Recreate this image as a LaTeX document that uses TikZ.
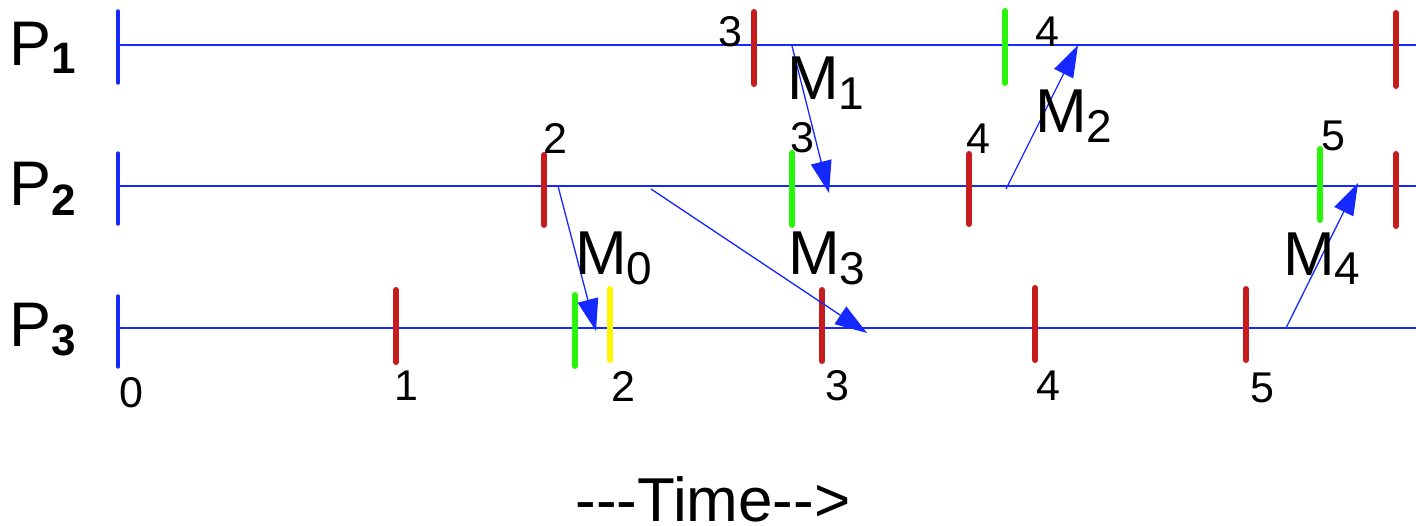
\documentclass[tikz,border=0pt]{standalone}
\usepackage{fontspec}
\setmainfont{Liberation Sans}
\usetikzlibrary{arrows.meta}
\definecolor{lblue}{RGB}{20,40,255}
\definecolor{tred}{RGB}{200,28,28}
\definecolor{tgreen}{RGB}{40,245,10}
\definecolor{tyellow}{RGB}{255,245,0}
\begin{document}
\begin{tikzpicture}[x=1pt,y=-1pt,
  timeline/.style={draw=lblue,line width=1.5pt},
  starttick/.style={draw=lblue,line width=3.4pt,line cap=round},
  redtick/.style={draw=tred,line width=6pt,line cap=round},
  greentick/.style={draw=tgreen,line width=6pt,line cap=round},
  yellowtick/.style={draw=tyellow,line width=6pt,line cap=round},
  msg/.style={draw=lblue,line width=1.3pt,-{Triangle[length=32pt,width=21pt]}},
  num/.style={font=\fontsize{43}{43}\selectfont,inner sep=0pt},
  proc/.style={anchor=base west,inner sep=0pt,font=\fontsize{63}{63}\selectfont},
  mlab/.style={anchor=base west,inner sep=0pt,font=\fontsize{62}{62}\selectfont},
]
\useasboundingbox (0,0) rectangle (1416,526);

% process labels
\node[proc] (p1) at (9,66) {P\raisebox{-8pt}{\fontsize{44}{44}\selectfont\bfseries 1}};
\node[proc] (p2) at (9,206) {P\raisebox{-10pt}{\fontsize{44}{44}\selectfont\bfseries 2}};
\node[proc] (p3) at (9,347) {P\raisebox{-9pt}{\fontsize{44}{44}\selectfont\bfseries 3}};

% timelines
\draw[timeline] (118,45) -- (1416,45);
\draw[timeline] (118,186) -- (1416,186);
\draw[timeline] (118,328) -- (1416,328);
\draw[starttick] (118,11) -- (118,83);
\draw[starttick] (118,153) -- (118,224);
\draw[starttick] (118,296) -- (118,367);

% P1 ticks
\draw[redtick] (754,12) -- (754,84);
\draw[greentick] (1005,11) -- (1005,83);
\draw[redtick] (1396,13) -- (1396,86);
% P2 ticks
\draw[redtick] (544,155) -- (544,225);
\draw[greentick] (792,153) -- (792,225);
\draw[redtick] (969,154) -- (969,224);
\draw[greentick] (1320,149) -- (1320,220);
\draw[redtick] (1396,154) -- (1396,226);
% P3 ticks
\draw[redtick] (396,290) -- (396,362);
\draw[greentick] (575,295) -- (575,366);
\draw[yellowtick] (610,289) -- (610,360);
\draw[redtick] (822,290) -- (822,361);
\draw[redtick] (1035,288) -- (1035,360);
\draw[redtick] (1246,289) -- (1246,360);

% tick labels
\node[num] (a3) at (730,32) {3};
\node[num] (a4) at (1047,32) {4};
\node[num] (b2) at (555,138) {2};
\node[num] (b3) at (802,138) {3};
\node[num] (b4) at (978,139) {4};
\node[num] (b5) at (1333,136) {5};
\node[num] (c0) at (131,393) {0};
\node[num] (c1) at (406,386) {1};
\node[num] (c2) at (623,386) {2};
\node[num] (c3) at (837,386) {3};
\node[num] (c4) at (1048,386) {4};
\node[num] (c5) at (1262,388) {5};

% messages
\coordinate (m0s) at (558,186); \coordinate (m0e) at (596,331);
\coordinate (m1s) at (792,46);  \coordinate (m1e) at (829,193);
\coordinate (m2s) at (1006,189); \coordinate (m2e) at (1078,45);
\coordinate (m3s) at (651,189); \coordinate (m3e) at (867,333);
\coordinate (m4s) at (1286,328); \coordinate (m4e) at (1358,183);
\draw[msg] (m0s) -- (m0e);
\draw[msg] (m1s) -- (m1e);
\draw[msg] (m2s) -- (m2e);
\draw[msg] (m3s) -- (m3e);
\draw[msg] (m4s) -- (m4e);

\node[mlab] (l0) at (575,275) {M\raisebox{-10pt}{\fontsize{46}{46}\selectfont 0}};
\node[mlab] (l1) at (787,100) {M\raisebox{-10pt}{\fontsize{46}{46}\selectfont 1}};
\node[mlab] (l2) at (1035,133) {M\raisebox{-10pt}{\fontsize{46}{46}\selectfont 2}};
\node[mlab] (l3) at (788,275) {M\raisebox{-10pt}{\fontsize{46}{46}\selectfont 3}};
\node[mlab] (l4) at (1283,276) {M\raisebox{-9pt}{\fontsize{46}{46}\selectfont 4}};

% time label
\node[anchor=base,inner sep=0pt,font=\fontsize{62}{62}\selectfont] (time) at (713,521) {-\kern0pt-\kern0pt-Time-\kern0pt->};
\end{tikzpicture}
\end{document}
